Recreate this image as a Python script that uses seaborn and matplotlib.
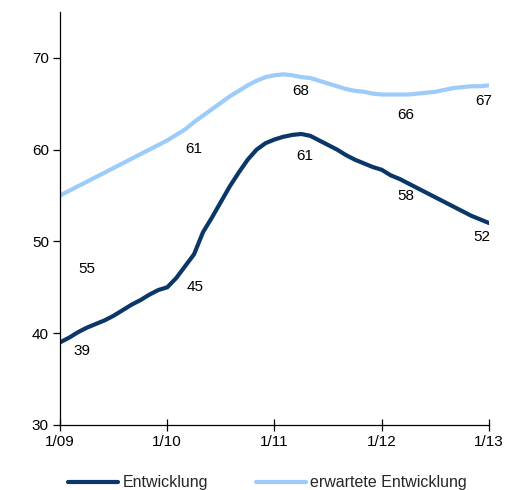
import numpy as np
import pandas as pd
import matplotlib
matplotlib.use("Agg")
import matplotlib.pyplot as plt
import seaborn as sns

# Monthly index values, January 2009 to January 2013
months = list(range(49))
entwicklung = [39.0, 39.5, 40.1, 40.6, 41.0, 41.4, 41.9, 42.5, 43.1, 43.6, 44.2, 44.7,
               45.0, 46.0, 47.3, 48.6, 51.0, 52.6, 54.3, 56.0, 57.5, 58.9, 60.0, 60.7,
               61.1, 61.4, 61.6, 61.7, 61.5, 61.0, 60.5, 60.0, 59.4, 58.9, 58.5, 58.1,
               57.8, 57.2, 56.8, 56.3, 55.8, 55.3, 54.8, 54.3, 53.8, 53.3, 52.8, 52.4,
               52.0]
erwartet = [55.0, 55.5, 56.0, 56.5, 57.0, 57.5, 58.0, 58.5, 59.0, 59.5, 60.0, 60.5,
            61.0, 61.6, 62.2, 63.0, 63.7, 64.4, 65.1, 65.8, 66.4, 67.0, 67.5, 67.9,
            68.1, 68.2, 68.1, 67.9, 67.8, 67.5, 67.2, 66.9, 66.6, 66.4, 66.3, 66.1,
            66.0, 66.0, 66.0, 66.0, 66.1, 66.2, 66.3, 66.5, 66.7, 66.8, 66.9, 66.9,
            67.0]

series_names = ["Entwicklung", "erwartete Entwicklung"]
tick_months = [0, 12, 24, 36, 48]
tick_labels = ["1/09", "1/10", "1/11", "1/12", "1/13"]

# Label offsets (points) for the yearly value labels
offsets_dark = [(16, -6), (20, 0), (22, -12), (17, -19), (-5, -10)]
offsets_light = [(19, -53), (19, -6), (19, -11), (17, -15), (-4, -11)]

df = pd.DataFrame({
    "Monat": months * 2,
    "Wert": entwicklung + erwartet,
    "Reihe": [series_names[0]] * len(months) + [series_names[1]] * len(months),
})

sns.set_theme(style="white")
plt.rcParams["font.family"] = ["Liberation Sans", "DejaVu Sans"]

colors = {series_names[0]: "#0b3768", series_names[1]: "#9dcbfa"}
fs = 11

fig = plt.figure(figsize=(5.15, 4.9), dpi=100)
ax = fig.add_axes([0.1165, 0.1327, 0.833, 0.843])

sns.lineplot(data=df, x="Monat", y="Wert", hue="Reihe", palette=colors,
             linewidth=3.0, ax=ax, legend=False)

ax.set_xlim(0, 48)
ax.set_ylim(30, 75)
ax.set_xticks(tick_months)
ax.set_xticklabels(tick_labels)
ax.set_yticks([30, 40, 50, 60, 70])
ax.set_xlabel("")
ax.set_ylabel("")

for side in ["top", "right"]:
    ax.spines[side].set_visible(False)
for side in ["left", "bottom"]:
    ax.spines[side].set_color("black")
    ax.spines[side].set_linewidth(0.9)

ax.tick_params(axis="x", direction="inout", length=8, width=0.9, colors="black",
               labelsize=fs, pad=3, bottom=True)
ax.tick_params(axis="y", direction="out", length=5, width=0.9, colors="black",
               labelsize=fs, pad=3, left=True)

for values, offs in [(entwicklung, offsets_dark), (erwartet, offsets_light)]:
    for m, off in zip(tick_months, offs):
        v = values[m]
        ax.annotate(f"{v:.0f}", xy=(m, v), xytext=off, textcoords="offset points",
                    ha="center", va="center", fontsize=fs, color="black",
                    annotation_clip=False)

handles = [plt.Line2D([], [], color=colors[n], linewidth=3.0) for n in series_names]
fig.legend(handles, series_names, loc="lower center", bbox_to_anchor=(0.52, -0.02),
           ncol=2, frameon=False, fontsize=11.5, handlelength=3.1, handletextpad=0.3,
           columnspacing=3.0, borderaxespad=0.2)

fig.savefig("out.png", dpi=100)
